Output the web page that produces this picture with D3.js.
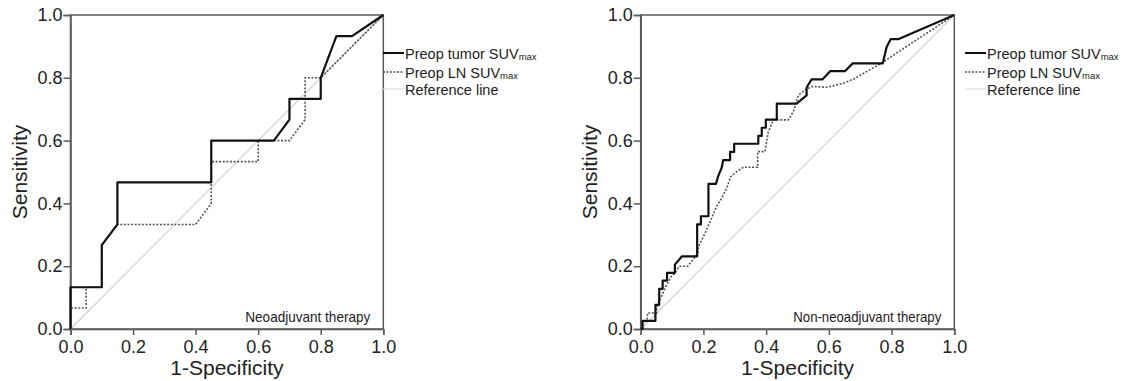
<!DOCTYPE html>
<html>
<head>
<meta charset="utf-8">
<script src="https://cdn.jsdelivr.net/npm/d3@7"></script>
<style>
  body { margin: 0; background: #fff; }
  svg text { font-family: "Liberation Sans", Arial, Helvetica, sans-serif; fill: #222; }
</style>
</head>
<body>
<svg id="chart" width="1134" height="381"></svg>
<script>
// ROC points as [1-specificity, sensitivity]
const neoTumor = [[0,0],[0,0.133],[0.1,0.133],[0.1,0.267],[0.15,0.333],[0.15,0.467],[0.45,0.467],[0.45,0.6],
  [0.65,0.6],[0.7,0.667],[0.7,0.733],[0.8,0.733],[0.8,0.8],[0.85,0.933],[0.9,0.933],[1,1]]
const neoLN = [[0,0],[0,0.067],[0.05,0.067],[0.05,0.133],[0.1,0.133],[0.1,0.267],[0.15,0.333],[0.4,0.333],
  [0.45,0.4],[0.45,0.533],[0.6,0.533],[0.6,0.6],[0.7,0.6],[0.75,0.667],[0.75,0.8],[0.8,0.8],[1,1]]

const nonTumor = [[0,0],[0.006,0],[0.006,0.026],[0.047,0.026],[0.047,0.077],[0.059,0.077],[0.059,0.128],
  [0.07,0.128],[0.07,0.154],[0.084,0.154],[0.084,0.179],[0.109,0.179],[0.109,0.205],[0.131,0.231],[0.18,0.231],
  [0.18,0.333],[0.192,0.333],[0.192,0.359],[0.216,0.359],[0.216,0.462],[0.24,0.462],[0.247,0.487],[0.258,0.513],
  [0.263,0.538],[0.285,0.538],[0.285,0.564],[0.298,0.564],[0.298,0.59],[0.375,0.59],[0.375,0.615],[0.386,0.615],
  [0.386,0.641],[0.399,0.641],[0.399,0.667],[0.434,0.667],[0.434,0.718],[0.497,0.718],[0.529,0.744],[0.529,0.769],
  [0.545,0.795],[0.58,0.795],[0.604,0.821],[0.651,0.821],[0.676,0.846],[0.772,0.846],[0.784,0.897],[0.797,0.923],
  [0.821,0.923],[1,1]]
const nonLN = [[0,0],[0.005,0.026],[0.02,0.026],[0.022,0.051],[0.05,0.051],[0.051,0.071],[0.068,0.108],
  [0.08,0.135],[0.097,0.167],[0.109,0.177],[0.123,0.2],[0.15,0.2],[0.182,0.241],[0.184,0.262],[0.205,0.305],
  [0.226,0.353],[0.242,0.39],[0.258,0.416],[0.274,0.448],[0.287,0.485],[0.306,0.501],[0.327,0.515],[0.373,0.515],
  [0.373,0.565],[0.396,0.565],[0.407,0.628],[0.423,0.666],[0.471,0.666],[0.487,0.693],[0.503,0.745],[0.524,0.761],
  [0.545,0.772],[0.593,0.77],[0.646,0.782],[0.683,0.798],[0.721,0.82],[0.758,0.841],[0.774,0.851],[1,1]]

const refLine = [[0,0],[1,1]]
const ticks = [0, 0.2, 0.4, 0.6, 0.8, 1.0]
const legendItems = ['Preop tumor SUV', 'Preop LN SUV', 'Reference line']
const panelTitles = ['Neoadjuvant therapy', 'Non-neoadjuvant therapy']

const svg = d3.select('#chart')

const panels = [
  { left: 70.5, right: 383.3, tumor: neoTumor, ln: neoLN, title: panelTitles[0], titleW: 125, legX: 383 },
  { left: 640.7, right: 954.3, tumor: nonTumor, ln: nonLN, title: panelTitles[1], titleW: 148, legX: 965 }
]

panels.forEach(function(p) {
  const
    top = 15,
    bottom = 329

  const x = d3.scaleLinear().domain([0, 1]).range([p.left, p.right])
  const y = d3.scaleLinear().domain([0, 1]).range([bottom, top])

  const g = svg.append('g')

  // frame
  g.append('rect')
    .attr('x', p.left).attr('y', top)
    .attr('width', p.right - p.left).attr('height', bottom - top)
    .attr('fill', 'none').attr('stroke', '#5a5a5a').attr('stroke-width', 1.5)

  const fmt = d3.format('.1f')

  const xAxis = g.append('g')
    .attr('transform', 'translate(0,' + bottom + ')')
    .call(d3.axisBottom(x).tickValues(ticks).tickFormat(fmt).tickSize(6).tickPadding(5))
  const yAxis = g.append('g')
    .attr('transform', 'translate(' + p.left + ',0)')
    .call(d3.axisLeft(y).tickValues(ticks).tickFormat(fmt).tickSize(7).tickPadding(1))

  ;[xAxis, yAxis].forEach(function(a) {
    a.select('.domain').attr('stroke', '#5a5a5a').attr('stroke-width', 1.5)
    a.selectAll('.tick line').attr('stroke', '#5a5a5a').attr('stroke-width', 1.5)
    a.selectAll('.tick text')
      .style('font-family', '"Liberation Sans", Arial, sans-serif')
      .style('font-size', '18px').attr('fill', '#222')
  })

  g.append('text')
    .attr('x', (p.left + p.right) / 2).attr('y', 374.5)
    .attr('text-anchor', 'middle').style('font-size', '21px')
    .text('1-Specificity')

  g.append('text')
    .attr('transform', 'translate(' + (p.left - 43.5) + ',' + (top + bottom) / 2 + ') rotate(-90)')
    .attr('text-anchor', 'middle').style('font-size', '21px')
    .text('Sensitivity')

  const line = d3.line()
    .x(function(d) { return x(d[0]) })
    .y(function(d) { return y(d[1]) })

  g.append('path').datum(refLine).attr('d', line)
    .attr('fill', 'none').attr('stroke', '#cfcfcf').attr('stroke-width', 1.1)

  g.append('path').datum(p.ln).attr('d', line)
    .attr('fill', 'none').attr('stroke', '#555').attr('stroke-width', 1.6)
    .attr('stroke-dasharray', '2,1.6')

  g.append('path').datum(p.tumor).attr('d', line)
    .attr('fill', 'none').attr('stroke', '#111').attr('stroke-width', 2.2)
    .attr('stroke-linejoin', 'round')

  g.append('text')
    .attr('x', p.right - 13).attr('y', 321.5)
    .attr('text-anchor', 'end').style('font-size', '14.5px')
    .attr('textLength', p.titleW).attr('lengthAdjust', 'spacingAndGlyphs')
    .text(p.title)

  // legend
  const rows = [53, 72, 89]
  const styles = [
    { stroke: '#111', w: 2, dash: null },
    { stroke: '#555', w: 1.5, dash: '2,1.5' },
    { stroke: '#dcdcdc', w: 1.2, dash: null }
  ]
  legendItems.forEach(function(label, i) {
    g.append('line')
      .attr('x1', p.legX).attr('x2', p.legX + 21)
      .attr('y1', rows[i]).attr('y2', rows[i])
      .attr('stroke', styles[i].stroke).attr('stroke-width', styles[i].w)
      .attr('stroke-dasharray', styles[i].dash)
    const t = g.append('text')
      .attr('x', p.legX + 22).attr('y', rows[i] + 5.5)
      .style('font-size', '14.5px')
    t.append('tspan').text(label)
    if (i < 2) {
      t.append('tspan').attr('dy', 1).style('font-size', '9.5px').text('max')
    }
  })
})
</script>
</body>
</html>
